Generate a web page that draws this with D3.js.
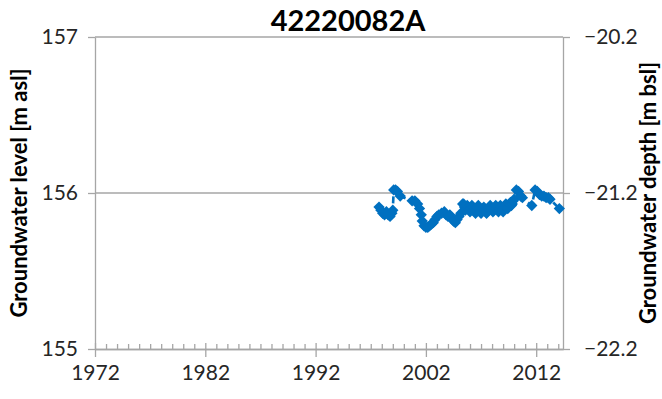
<!DOCTYPE html>
<html><head><meta charset="utf-8">
<script src="https://cdn.jsdelivr.net/npm/d3@7"></script>
<style>body{margin:0;background:#fff}svg{display:block}text{font-family:Lato,"Open Sans",sans-serif}</style>
</head><body><svg id="c" width="662" height="399"></svg>
<script>
const title = "42220082A";
const yearTicks = [1972, 1982, 1992, 2002, 2012];
const levelTicks = [155, 156, 157];
const depthTicks = [-22.2, -21.2, -20.2];
const dates = [1997.75,1997.92,1998.08,1998.25,1998.42,1998.58,1998.75,1998.92,1999.0,1999.08,1999.25,1999.42,1999.67,
2000.75,2001.0,2001.25,2001.42,2001.58,2001.67,2001.83,2002.0,2002.17,2002.33,2002.5,2002.67,2002.83,2003.0,2003.17,2003.42,2003.67,2003.83,2004.0,2004.17,2004.33,2004.5,2004.67,2004.83,2005.0,2005.17,
2005.33,2005.42,2005.5,2005.58,2005.67,2005.75,2005.83,2005.92,2006.0,2006.08,2006.17,2006.25,2006.33,2006.42,2006.5,2006.58,2006.67,2006.75,2006.83,2006.92,2007.0,2007.08,2007.17,2007.25,2007.33,2007.42,2007.5,2007.58,2007.67,2007.75,2007.83,2007.92,2008.0,2008.08,2008.17,2008.25,2008.33,2008.42,2008.5,2008.58,2008.67,2008.75,2008.83,2008.92,2009.0,2009.08,2009.17,2009.25,2009.33,2009.42,2009.5,2009.58,2009.67,2009.75,2009.83,2009.92,2010.0,
2010.2,2010.4,2010.6,2010.75,2011.6,2011.9,2012.1,2012.3,2012.5,2012.7,2012.9,2013.1,2013.25,2014.1];
const levels = [155.91,155.89,155.87,155.86,155.88,155.86,155.85,155.87,155.89,156.02,156.02,156.01,155.98,
155.95,155.95,155.93,155.90,155.86,155.82,155.79,155.78,155.78,155.79,155.80,155.81,155.83,155.85,155.86,155.87,155.88,155.86,155.85,155.86,155.84,155.82,155.81,155.83,155.85,155.87,
155.93,155.93,155.91,155.89,155.90,155.92,155.91,155.89,155.88,155.90,155.92,155.91,155.89,155.88,155.87,155.89,155.91,155.92,155.90,155.88,155.87,155.88,155.90,155.91,155.89,155.88,155.87,155.88,155.90,155.91,155.92,155.90,155.89,155.88,155.89,155.91,155.92,155.90,155.89,155.88,155.90,155.92,155.91,155.89,155.88,155.90,155.92,155.93,155.91,155.90,155.91,155.93,155.94,155.92,155.93,155.95,155.96,
156.02,156.01,155.98,155.97,155.92,156.02,156.01,155.99,155.98,155.98,155.97,155.97,155.96,155.90];

const svg = d3.select("#c");
const L = 95, R = 563, T = 37, B = 349;
const x = d3.scaleLinear().domain([1972, 2014.43]).range([L, R]);
const y = d3.scaleLinear().domain([155, 157]).range([B, T]);
const y2 = d3.scaleLinear().domain([-22.2, -20.2]).range([B, T]);
const grey = "#a6a6a6", txt = "#262626";

// gridlines
svg.append("g").selectAll("line").data(levelTicks.slice(1)).join("line")
  .attr("x1", L).attr("x2", R).attr("y1", d => y(d)).attr("y2", d => y(d))
  .attr("stroke", grey).attr("stroke-width", 1.3);

// left axis
svg.append("g").attr("transform", `translate(${L},0)`)
  .call(d3.axisLeft(y).tickValues(levelTicks).tickSize(7).tickSizeOuter(0).tickPadding(10).tickFormat(d3.format("d")));
// right axis
svg.append("g").attr("transform", `translate(${R},0)`)
  .call(d3.axisRight(y2).tickValues(depthTicks).tickSize(7).tickSizeOuter(0).tickPadding(14).tickFormat(d3.format(".1f")));
// bottom axis minor
const minor = d3.range(1973, 2015).filter(v => !yearTicks.includes(v));
svg.append("g").attr("transform", `translate(0,${B})`)
  .call(d3.axisBottom(x).tickValues(minor).tickSize(-5).tickSizeOuter(0).tickFormat(""));
const gb = svg.append("g").attr("transform", `translate(0,${B})`)
  .call(d3.axisBottom(x).tickValues(yearTicks).tickSize(8).tickSizeOuter(0).tickPadding(8).tickFormat(d3.format("d")));
gb.selectAll(".tick line").attr("y1", -6);

svg.selectAll(".domain").attr("stroke", grey).attr("stroke-width", 1.3);
svg.selectAll(".tick line").attr("stroke", grey).attr("stroke-width", 1.3);
svg.selectAll(".tick text").attr("fill", txt).style("font-size", "21px").style("font-family", "Lato");

// series
const pts = dates.map((d, i) => [d, levels[i]]);
svg.append("path").datum(pts)
  .attr("d", d3.line().x(d => x(d[0])).y(d => y(d[1])))
  .attr("fill", "none").attr("stroke", "#0070C0").attr("stroke-width", 2.6).attr("stroke-dasharray", "7,4");
svg.append("g").selectAll("path").data(pts).join("path")
  .attr("d", d3.symbol(d3.symbolSquare, 64))
  .attr("transform", d => `translate(${x(d[0])},${y(d[1])}) rotate(45)`)
  .attr("fill", "#0070C0");

// titles
svg.append("text").attr("x", 348).attr("y", 31).attr("text-anchor", "middle")
  .style("font-size", "29px").style("font-weight", "bold").attr("fill", "#000").text(title);
svg.append("text").attr("transform", `translate(27,${(T + B) / 2}) rotate(-90)`).attr("text-anchor", "middle")
  .style("font-size", "22px").style("font-weight", "bold").attr("fill", "#000").text("Groundwater level [m asl]");
svg.append("text").attr("transform", `translate(656,${(T + B) / 2}) rotate(-90)`).attr("text-anchor", "middle")
  .style("font-size", "22px").style("font-weight", "bold").attr("fill", "#000").text("Groundwater depth [m bsl]");
</script></body></html>
